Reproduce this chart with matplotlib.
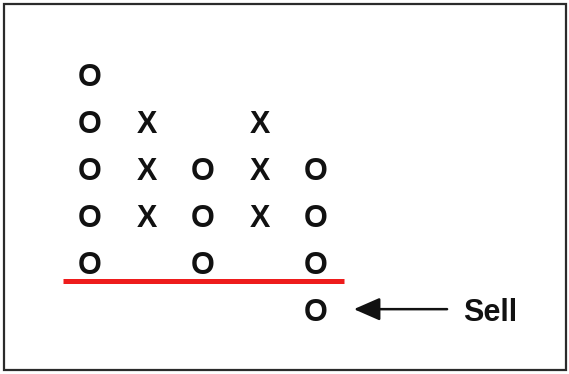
import matplotlib.pyplot as plt
from matplotlib.patches import Rectangle

# point & figure columns: symbol, lowest box level, highest box level
col_symbols = ['O', 'X', 'O', 'X', 'O']
col_low = [1, 2, 1, 2, 0]
col_high = [5, 4, 3, 4, 3]
support_level = 0.68
signal_label = 'Sell'

fig = plt.figure(figsize=(5.69, 3.74), dpi=100)
ax = fig.add_axes([0, 0, 1, 1])
ax.set_xlim(-0.593, 9.478)
ax.set_ylim(-1.30, 6.66)
ax.axis('off')

# frame around the chart
ax.add_patch(Rectangle((0.0075, 0.01), 0.987, 0.98, transform=ax.transAxes,
                       fill=False, edgecolor='#2b2b2b', linewidth=1.6))

for i, sym in enumerate(col_symbols):
    for lvl in range(col_low[i], col_high[i] + 1):
        ax.text(i + 1, lvl, sym, ha='center', va='center', fontsize=22,
                fontweight='bold', family='Liberation Sans', color='#111111')

# support line
ax.plot([0.52, 5.5], [support_level, support_level], color='#ee1c1c',
        linewidth=3.6, solid_capstyle='butt')

# sell signal arrow
last = len(col_symbols)
ax.annotate('', xy=(last + 0.67, col_low[-1] + 0.08), xytext=(last + 2.32, col_low[-1] + 0.08),
            arrowprops=dict(arrowstyle='-|>,head_length=1.6,head_width=0.7',
                            color='#111111', linewidth=1.8, shrinkA=0, shrinkB=0))
ax.text(last + 3.08, col_low[-1], signal_label, ha='center', va='center',
        fontsize=22, fontweight='bold', family='Liberation Sans', color='#111111')

fig.savefig('out.png', dpi=100)
plt.close()
